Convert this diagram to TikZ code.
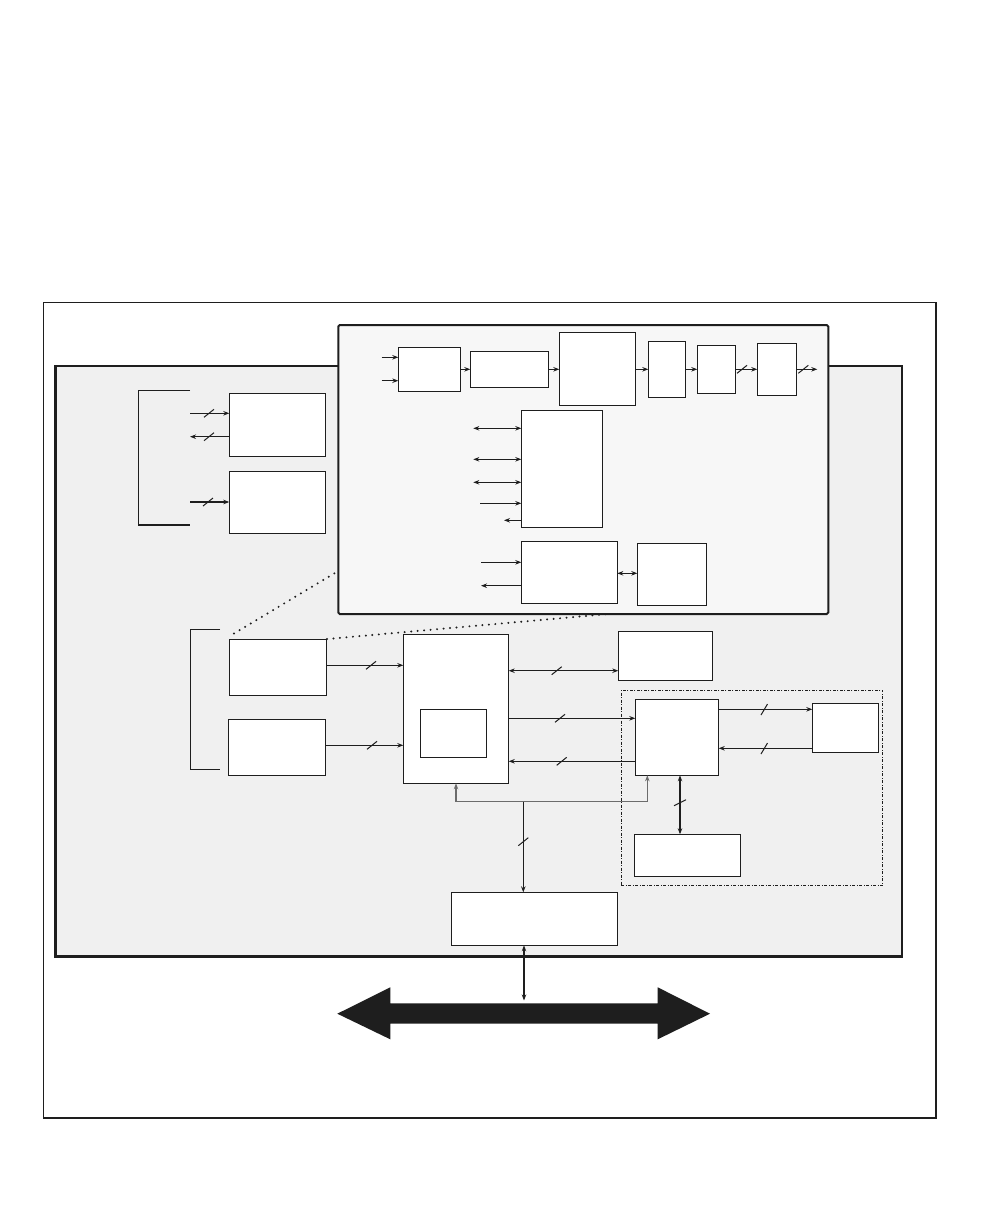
\documentclass[tikz,border=0pt]{standalone}
\usetikzlibrary{arrows.meta}
\definecolor{panelgray}{HTML}{F0F0F0}
\definecolor{insetgray}{HTML}{F7F7F7}
\definecolor{ink}{HTML}{1E1E1E}
\tikzset{
  box/.style={draw=ink, fill=white, line width=1.3pt, inner sep=0pt, outer sep=0pt},
  framebox/.style={draw=ink, fill=white, line width=1.2pt, inner sep=0pt, outer sep=0pt},
  panelbox/.style={draw=ink, fill=panelgray, line width=2.6pt, inner sep=0pt, outer sep=0pt},
  insetbox/.style={draw=ink, fill=insetgray, line width=2pt, rounded corners=1.5pt, inner sep=0pt, outer sep=0pt},
  groupbox/.style={draw=ink, line width=0.9pt, dash pattern=on 3pt off 1.5pt on 1pt off 1.5pt, inner sep=0pt, outer sep=0pt},
  conn/.style={draw=ink, line width=1.2pt},
  arr/.style={conn, -{Stealth[length=6pt,width=4.5pt]}},
  darr/.style={conn, {Stealth[length=6pt,width=4.5pt]}-{Stealth[length=6pt,width=4.5pt]}},
  slash/.style={draw=ink, line width=1pt},
  dots/.style={draw=ink, line width=2.2pt, line cap=round, dash pattern=on 0pt off 6.5pt},
}
\newcommand\bx[6][box]{\node[#1, minimum width={(#5)-(#3)}, minimum height={(#6)-(#4)}] (#2) at ({((#3)+(#5))/2},{((#4)+(#6))/2}) {};}
\newcommand\slh[2]{\draw[slash] ({#1-5},{#2+4}) -- ({#1+5},{#2-4});}
\newcommand\slv[2]{\draw[slash] ({#1-6},{#2+3}) -- ({#1+6},{#2-3});}
\begin{document}
\begin{tikzpicture}[x=1pt,y=-1pt]
\useasboundingbox[fill=white] (0,0) rectangle (1008,1224);
% frames
\bx[framebox]{frame}{43.3}{302.3}{936}{1118}
\bx[panelbox]{panel}{55.7}{366}{902}{956.5}
\bx[insetbox]{inset}{338.3}{325}{828.3}{614}
% inset boxes
\bx{A1}{398.3}{347.3}{460.3}{391.3}
\bx{A2}{470.3}{351.3}{548.3}{387.3}
\bx{A3}{559.3}{332.3}{635.3}{405.3}
\bx{A4}{648.3}{341.3}{685.3}{397.3}
\bx{A5}{697.3}{345.3}{735.3}{393.3}
\bx{A6}{757.3}{343.3}{796.3}{395.3}
\bx{B}{521.3}{410.3}{602.3}{527.3}
\bx{C}{521.3}{541.3}{617.3}{603.3}
\bx{D}{637.3}{543.3}{706.3}{605.3}
% left boxes
\bx{E1}{229.3}{393.3}{325.3}{456.3}
\bx{E2}{229.3}{471.3}{325.3}{533.3}
\bx{F1}{229.3}{639.3}{326.7}{695.3}
\bx{F2}{228.3}{719.3}{325.7}{775.3}
% main
\bx{G}{403.3}{634.3}{508.7}{783.3}
\bx{Gin}{420.3}{709.3}{486.3}{757.3}
\bx{H}{618.3}{631.3}{712.7}{680.3}
\bx[groupbox]{grp}{621.3}{690}{882.7}{885.7}
\bx{I}{635.3}{699.3}{718.7}{775.3}
\bx{J}{812.3}{703.3}{878.7}{752.3}
\bx{K}{634.3}{834.3}{740.7}{876.3}
\bx{L}{451.3}{892.3}{617.3}{945.3}

% inset chain
\coordinate (a1i1) at (381.7,357.3);
\coordinate (a1i2) at (381.7,380.7);
\draw[arr] (a1i1) -- (a1i1 -| A1.west);
\draw[arr] (a1i2) -- (a1i2 -| A1.west);
\draw[arr] (A1.east) -- (A1.east -| A2.west);
\draw[arr] (A2.east) -- (A2.east -| A3.west);
\draw[arr] (A4.west -| A3.east) -- (A4.west);
\draw[arr] (A4.east) -- (A4.east -| A5.west);
\draw[arr] (A5.east) -- (A5.east -| A6.west);
\slh{742}{369.3}
\coordinate (a6o) at (817.3,369.3);
\draw[arr] (A6.east) -- (a6o);
\slh{803.3}{369.3}

% B lines
\coordinate (b1) at (473.3,428.3);
\coordinate (b2) at (473.3,459.3);
\coordinate (b3) at (473.3,482.3);
\coordinate (b4) at (480,503.3);
\coordinate (b5) at (504,520.3);
\draw[darr] (b1) -- (b1 -| B.west);
\draw[darr] (b2) -- (b2 -| B.west);
\draw[darr] (b3) -- (b3 -| B.west);
\draw[arr] (b4) -- (b4 -| B.west);
\draw[arr] (b5 -| B.west) -- (b5);

% C lines
\coordinate (c1) at (481,562.3);
\coordinate (c2) at (481,585.7);
\draw[arr] (c1) -- (c1 -| C.west);
\draw[arr] (c2 -| C.west) -- (c2);
\coordinate (cd) at (620,573.3);
\draw[darr] (cd -| C.east) -- (cd -| D.west);

% bracket 1
\coordinate (br1a) at (190,390.3);
\coordinate (br1b) at (190,525);
\draw[conn] (br1a) -- (138.3,390.3) -- (138.3,525) -- (br1b);
\coordinate (e1) at (190,413.3);
\coordinate (e2) at (190,436.7);
\coordinate (e3) at (190,502);
\draw[arr] (e1) -- (e1 -| E1.west);
\draw[arr] (e2 -| E1.west) -- (e2);
\draw[arr] (e3) -- (e3 -| E2.west);
\slh{209}{413.3}
\slh{209}{436.7}
\slh{208}{502}

% bracket 2
\coordinate (br2a) at (220,629.3);
\coordinate (br2b) at (220,769.3);
\draw[conn] (br2a) -- (190.3,629.3) -- (190.3,769.3) -- (br2b);

% F -> G
\coordinate (f1) at (330,665.3);
\coordinate (f2) at (330,745.3);
\draw[arr] (f1 -| F1.east) -- (f1 -| G.west);
\draw[arr] (f2 -| F2.east) -- (f2 -| G.west);
\slh{371}{665.3}
\slh{372}{745.3}

% G <-> H
\coordinate (gh) at (560,670.7);
\draw[darr] (gh -| G.east) -- (gh -| H.west);
\slh{556.7}{670.7}
% G -> I, I -> G
\coordinate (gi1) at (560,718.3);
\coordinate (gi2) at (560,761.3);
\draw[arr] (gi1 -| G.east) -- (gi1 -| I.west);
\draw[arr] (gi2 -| I.west) -- (gi2 -| G.east);
\slh{560}{718.3}
\slh{561.7}{761.3}
% I -> J, J -> I
\coordinate (ij1) at (760,709.3);
\coordinate (ij2) at (760,748.3);
\draw[arr] (ij1 -| I.east) -- (ij1 -| J.west);
\draw[arr] (ij2 -| J.west) -- (ij2 -| I.east);
\draw[slash] (761,715) -- (767.5,704);
\draw[slash] (761,754) -- (767.5,743);
% I <-> K
\coordinate (ik) at (680,800);
\draw[darr] (ik |- I.south) -- (ik |- K.north);
\slv{680}{802.7}

% gray control line
\coordinate (gj) at (523.3,801.7);
\coordinate (gk) at (647.3,801.7);
\draw[darr, draw=gray!85!black] (G.south) -- (G.south |- gj) -- (gk) -- (gk |- I.south);
% to L
\draw[arr] (gj) -- (gj |- L.north);
\slh{523.3}{841.7}

% L <-> bus
\coordinate (bus) at (524,1000.5);
\draw[darr] (bus |- L.south) -- (bus);

% big bus arrow
\fill[ink] (337.3,1013.7) -- (390.3,987.3) -- (390.3,1003.3) -- (657.7,1003.3) -- (657.7,987.3)
  -- (710,1013.7) -- (657.7,1039.3) -- (657.7,1023.7) -- (390.3,1023.7) -- (390.3,1039.3) -- cycle;

% dotted zoom lines
\coordinate (z1) at (234,633.5);
\coordinate (z2) at (338.3,571);
\coordinate (z3) at (327,639);
\coordinate (z4) at (608,614);
\draw[dots] (z1) -- (z2);
\draw[dots] (z3) -- (z4);
\end{tikzpicture}
\end{document}
